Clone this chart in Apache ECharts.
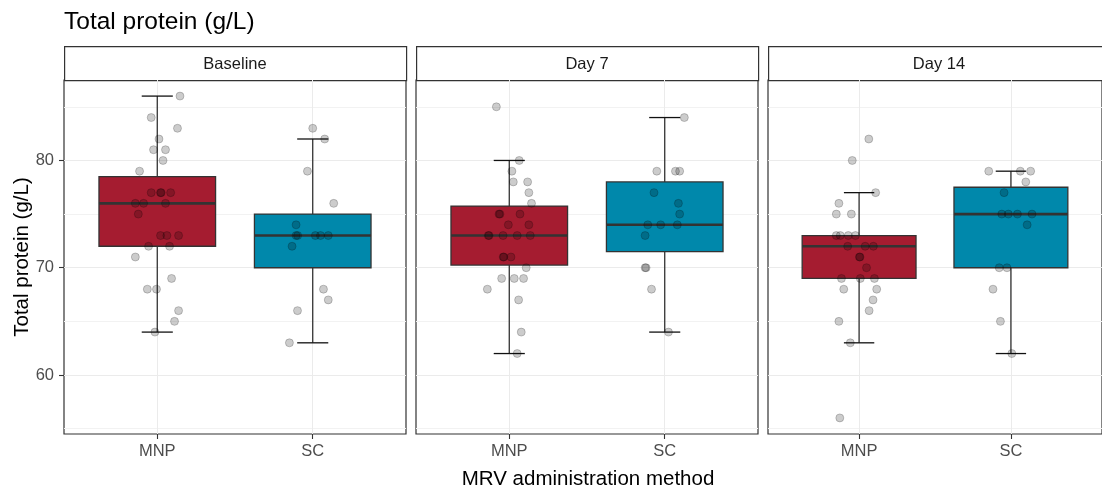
<!DOCTYPE html>
<html>
<head>
<meta charset="utf-8">
<title>Total protein (g/L)</title>
<script src="https://cdn.jsdelivr.net/npm/echarts@6.0.0/dist/echarts.min.js"></script>
<style>
html, body { margin: 0; padding: 0; background: #fff; }
#main { width: 1102px; height: 496px; }
</style>
</head>
<body>
<div id="main"></div>
<script>
// facets and groups
var facets = ['Baseline', 'Day 7', 'Day 14'];
var groups = ['MNP', 'SC'];
var yTicks = [60, 70, 80];
var yMinor = [55, 65, 75, 85];

// box stats per facet: [lower whisker, Q1, median, Q3, upper whisker] for MNP, SC
var boxBaseline = [[64, 72, 76, 78.5, 86], [63, 70, 73, 75, 82]];
var boxDay7 = [[62, 70.25, 73, 75.75, 80], [64, 71.5, 74, 78, 84]];
var boxDay14 = [[63, 69, 72, 73, 77], [62, 70, 75, 77.5, 79]];

var ptsBaselineMNP = [86, 84, 83, 82, 81, 81, 80, 79, 77, 77, 77, 77, 76, 76, 76, 75, 73, 73, 73, 72, 72, 71, 69, 68, 68, 66, 65, 64];
var jitBaselineMNP = [0.146, -0.039, 0.13, 0.011, -0.024, 0.053, 0.037, -0.114, -0.039, 0.021, 0.025, 0.086, -0.141, -0.088, 0.053, -0.122, 0.021, 0.062, 0.137, -0.056, 0.079, -0.141, 0.092, -0.064, -0.005, 0.137, 0.111, -0.015];
var ptsBaselineSC = [83, 82, 79, 76, 74, 73, 73, 73, 73, 73, 72, 68, 67, 66, 63];
var jitBaselineSC = [0, 0.077, -0.034, 0.135, -0.107, -0.107, -0.097, 0.017, 0.05, 0.1, -0.133, 0.069, 0.1, -0.098, -0.15];

var ptsDay7MNP = [85, 80, 79, 78, 78, 77, 76, 75, 75, 75, 74, 74, 73, 73, 73, 73, 73, 71, 71, 71, 70, 69, 69, 69, 68, 67, 64, 62];
var jitDay7MNP = [-0.083, 0.064, 0.017, 0.026, 0.118, 0.126, 0.143, -0.066, -0.06, 0.069, -0.006, 0.126, -0.135, -0.13, -0.04, 0.051, 0.135, -0.039, -0.035, 0.011, 0.109, -0.049, 0.032, 0.092, -0.141, 0.06, 0.077, 0.051];
var ptsDay7SC = [84, 79, 79, 79, 77, 76, 75, 74, 74, 74, 73, 70, 70, 68, 64];
var jitDay7SC = [0.126, -0.051, 0.069, 0.096, -0.069, 0.088, 0.096, -0.109, -0.026, 0.081, -0.126, -0.126, -0.12, -0.085, 0.024];

var ptsDay14MNP = [82, 80, 77, 76, 75, 75, 73, 73, 73, 73, 72, 72, 72, 71, 71, 70, 69, 69, 69, 68, 68, 67, 66, 65, 63, 56];
var jitDay14MNP = [0.064, -0.045, 0.109, -0.133, -0.15, -0.051, -0.15, -0.124, -0.071, -0.024, -0.075, 0.04, 0.094, 0.002, 0.006, 0.049, -0.116, 0.008, 0.101, -0.101, 0.116, 0.092, 0.066, -0.133, -0.058, -0.127];
var ptsDay14SC = [79, 79, 79, 78, 77, 75, 75, 75, 75, 74, 70, 70, 68, 65, 62];
var jitDay14SC = [-0.146, 0.062, 0.13, 0.098, -0.045, -0.06, -0.017, 0.043, 0.139, 0.107, -0.077, -0.026, -0.118, -0.069, 0.006];

var boxes = [boxBaseline, boxDay7, boxDay14];
var points = [[ptsBaselineMNP, ptsBaselineSC], [ptsDay7MNP, ptsDay7SC], [ptsDay14MNP, ptsDay14SC]];
var jitters = [[jitBaselineMNP, jitBaselineSC], [jitDay7MNP, jitDay7SC], [jitDay14MNP, jitDay14SC]];

var FONT = '"Liberation Sans", Arial, sans-serif';
var fills = ['#A51C30', '#0088AB'];
var panelLeft = [64, 416, 768];
var panelW = 342, panelTop = 80, panelH = 354;

// box + whiskers drawn through the axes
function renderBox(params, api) {
    var x = api.value(0);
    var lo = api.value(1), q1 = api.value(2), md = api.value(3), q3 = api.value(4), hi = api.value(5);
    var pHi = api.coord([x, hi]), pLo = api.coord([x, lo]);
    var tl = api.coord([x - 0.375, q3]), br = api.coord([x + 0.375, q1]);
    var ml = api.coord([x - 0.375, md]), mr = api.coord([x + 0.375, md]);
    var cl = api.coord([x - 0.1, hi]), cr = api.coord([x + 0.1, hi]);
    var dl = api.coord([x - 0.1, lo]), dr = api.coord([x + 0.1, lo]);
    var dark = '#333333';
    return {
        type: 'group',
        children: [
            {type: 'line', shape: {x1: pHi[0], y1: pHi[1], x2: pLo[0], y2: pLo[1]}, style: {stroke: dark, lineWidth: 1.3}},
            {type: 'line', shape: {x1: cl[0], y1: cl[1], x2: cr[0], y2: cr[1]}, style: {stroke: '#111', lineWidth: 1.3}},
            {type: 'line', shape: {x1: dl[0], y1: dl[1], x2: dr[0], y2: dr[1]}, style: {stroke: '#111', lineWidth: 1.3}},
            {type: 'rect', shape: {x: tl[0], y: tl[1], width: br[0] - tl[0], height: br[1] - tl[1]},
                style: {fill: fills[params.dataIndex], stroke: dark, lineWidth: 1.3}},
            {type: 'line', shape: {x1: ml[0], y1: ml[1], x2: mr[0], y2: mr[1]}, style: {stroke: dark, lineWidth: 2.6}}
        ]
    };
}

var grid = [], xAxis = [], yAxis = [], series = [], graphic = [];

for (var i = 0; i < facets.length; i++) {
    grid.push({
        left: panelLeft[i], top: panelTop, width: panelW, height: panelH,
        show: true, backgroundColor: '#fff', borderColor: '#333', borderWidth: 1.2
    });
    xAxis.push({
        type: 'value', gridIndex: i, min: 0.4, max: 2.6, position: 'bottom',
        axisLine: {show: false},
        axisTick: {show: true, length: 5, customValues: [1, 2], lineStyle: {color: '#333', width: 1.1}},
        axisLabel: {
            customValues: [1, 2], margin: 9, color: '#4d4d4d', fontSize: 16.5, fontFamily: FONT,
            formatter: function (v) { return groups[Math.round(v) - 1]; }
        },
        splitLine: {show: true, lineStyle: {color: '#ebebeb', width: 1}}
    });
    // minor grid lines
    yAxis.push({
        type: 'value', gridIndex: i, min: 54.5, max: 87.5, position: 'left',
        axisLine: {show: false},
        axisTick: {show: false, customValues: yMinor},
        axisLabel: {show: false, customValues: yMinor},
        splitLine: {show: true, lineStyle: {color: '#f2f2f2', width: 1}}
    });
    // major grid lines, labels only on first panel
    yAxis.push({
        type: 'value', gridIndex: i, min: 54.5, max: 87.5, position: 'left', offset: 0,
        axisLine: {show: false},
        axisTick: {show: i === 0, length: 5, customValues: yTicks, lineStyle: {color: '#333', width: 1.1}},
        axisLabel: {show: i === 0, customValues: yTicks, margin: 10, color: '#4d4d4d', fontSize: 16.5, fontFamily: FONT},
        splitLine: {show: true, lineStyle: {color: '#ebebeb', width: 1.1}}
    });

    var boxData = [];
    for (var g = 0; g < groups.length; g++) {
        boxData.push([g + 1].concat(boxes[i][g]));
    }
    series.push({
        type: 'custom', xAxisIndex: i, yAxisIndex: i * 2 + 1,
        renderItem: renderBox, data: boxData, z: 2,
        encode: {x: 0, y: [1, 2, 3, 4, 5]}
    });

    var pts = [];
    for (var g2 = 0; g2 < groups.length; g2++) {
        var vals = points[i][g2], jit = jitters[i][g2];
        for (var k = 0; k < vals.length; k++) {
            pts.push([g2 + 1 + jit[k], vals[k]]);
        }
    }
    series.push({
        type: 'scatter', xAxisIndex: i, yAxisIndex: i * 2 + 1, z: 3,
        symbolSize: 8, data: pts, silent: true,
        itemStyle: {color: 'rgba(0,0,0,0.2)', borderColor: 'rgba(0,0,0,0.2)', borderWidth: 1, opacity: 1}
    });

    // facet strip
    graphic.push({
        type: 'rect', left: panelLeft[i], top: 46,
        shape: {width: panelW, height: 34},
        style: {fill: '#fff', stroke: '#333', lineWidth: 1.2}
    });
    graphic.push({
        type: 'text', x: panelLeft[i] + panelW / 2, y: 64,
        style: {text: facets[i], fill: '#1a1a1a', font: '16.5px ' + FONT, textAlign: 'center', textVerticalAlign: 'middle'}
    });
}

// titles
graphic.push({
    type: 'text', x: 64, y: 22,
    style: {text: 'Total protein (g/L)', fill: '#000', font: '24.5px ' + FONT, textAlign: 'left', textVerticalAlign: 'middle'}
});
graphic.push({
    type: 'text', x: 22, y: 257, rotation: Math.PI / 2,
    style: {text: 'Total protein (g/L)', fill: '#000', font: '20.5px ' + FONT, textAlign: 'center', textVerticalAlign: 'middle'}
});
graphic.push({
    type: 'text', x: 588, y: 479,
    style: {text: 'MRV administration method', fill: '#000', font: '20.5px ' + FONT, textAlign: 'center', textVerticalAlign: 'middle'}
});

var chart = echarts.init(document.getElementById('main'));
chart.setOption({
    backgroundColor: '#fff',
    animation: false,
    grid: grid,
    xAxis: xAxis,
    yAxis: yAxis,
    series: series,
    graphic: graphic
});
</script>
</body>
</html>
